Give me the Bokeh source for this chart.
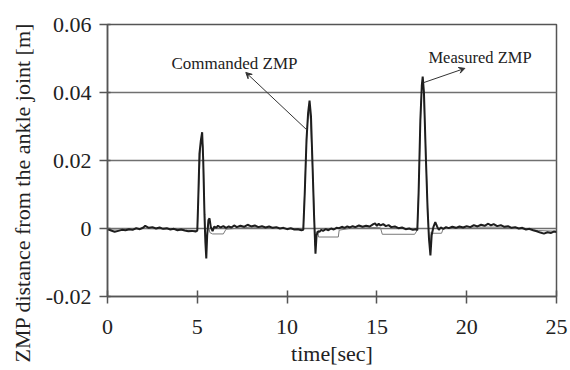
from bokeh.plotting import figure
from bokeh.models import Range1d, FixedTicker, Arrow, VeeHead, Label, Title
from bokeh.embed import file_html
from bokeh.resources import INLINE

# ---- data ----
t_meas = [0.0, 0.2, 0.4, 0.6, 0.8, 1.0, 1.2, 1.4, 1.6, 1.8, 2.0, 2.1, 2.3, 2.5, 2.7, 2.9,
          3.1, 3.3, 3.5, 3.7, 3.9, 4.1, 4.3, 4.5, 4.7, 4.9, 5.0,
          5.05, 5.12, 5.2, 5.27, 5.33, 5.40, 5.45, 5.50, 5.55, 5.62, 5.68, 5.75, 5.85, 5.95,
          6.05, 6.15, 6.3, 6.45, 6.6, 6.75, 6.9, 7.05, 7.2, 7.4, 7.6, 7.8, 8.0, 8.2, 8.4,
          8.6, 8.8, 9.0, 9.2, 9.4, 9.6, 9.8, 10.0, 10.2, 10.4, 10.6, 10.8, 10.9,
          10.98, 11.08, 11.17, 11.25, 11.33, 11.42, 11.50, 11.58, 11.64, 11.72, 11.8, 11.9,
          12.0, 12.15, 12.3, 12.45, 12.6, 12.75, 12.9, 13.05, 13.2, 13.35, 13.5, 13.65, 13.8,
          14.0, 14.2, 14.4, 14.6, 14.8, 14.9, 15.0, 15.1, 15.2, 15.35, 15.5, 15.65, 15.8,
          16.0, 16.2, 16.4, 16.6, 16.8, 17.0, 17.15, 17.25,
          17.32, 17.42, 17.50, 17.55, 17.62, 17.72, 17.82, 17.90, 17.98, 18.05, 18.15, 18.25,
          18.35, 18.45, 18.55, 18.7, 18.85, 19.0, 19.2, 19.4, 19.6, 19.8, 20.0, 20.2, 20.4,
          20.6, 20.8, 21.0, 21.2, 21.35, 21.5, 21.7, 21.9, 22.1, 22.3, 22.5, 22.7, 22.9,
          23.1, 23.3, 23.5, 23.7, 23.9, 24.1, 24.3, 24.5, 24.7, 24.85, 25.0]
z_meas = [-0.0002, -0.0006, -0.0010, -0.0007, -0.0004, -0.0005, -0.0002, -0.0004, 0.0001, -0.0002,
          0.0003, 0.0008, 0.0002, 0.0004, 0.0000, 0.0003,
          -0.0001, 0.0001, -0.0003, -0.0001, -0.0005, -0.0003, -0.0006, -0.0008, -0.0007, -0.0009, -0.0006,
          0.008, 0.022, 0.026, 0.0283, 0.020, 0.004, -0.004, -0.0088, -0.002, 0.0025, 0.0030, 0.0005,
          -0.0008, 0.0006,
          0.0002, 0.0008, 0.0003, 0.0007, 0.0002, 0.0006, 0.0003, 0.0009, 0.0004, 0.0008, 0.0005,
          0.0011, 0.0006, 0.0009, 0.0004,
          0.0007, 0.0003, 0.0006, 0.0002, 0.0004, 0.0000, 0.0002, -0.0002, 0.0001, -0.0003, -0.0002,
          -0.0005, -0.0004,
          0.010, 0.026, 0.034, 0.0376, 0.033, 0.018, 0.004, -0.0074, -0.002, -0.0008, -0.0010, -0.0004,
          -0.0007, -0.0002, -0.0005, 0.0000, -0.0003, 0.0002, 0.0001, 0.0005, 0.0002, 0.0006, 0.0003,
          0.0007, 0.0004,
          0.0009, 0.0005, 0.0008, 0.0006, 0.0013, 0.0015, 0.0008, 0.0014, 0.0009, 0.0013, 0.0007,
          0.0010, 0.0004,
          0.0006, 0.0001, 0.0003, -0.0002, 0.0000, -0.0004, -0.0002, -0.0005,
          0.010, 0.032, 0.042, 0.0447, 0.040, 0.022, 0.006, -0.003, -0.0079, -0.002, 0.0005, 0.0019,
          0.0006, -0.0004, 0.0003, -0.0001, 0.0004, 0.0001, 0.0005, 0.0002, 0.0006, 0.0003, 0.0007,
          0.0004, 0.0010,
          0.0006, 0.0011, 0.0008, 0.0014, 0.0009, 0.0013, 0.0007, 0.0010, 0.0005, 0.0007, 0.0002,
          0.0004, 0.0000,
          0.0002, -0.0003, -0.0001, -0.0005, -0.0008, -0.0012, -0.0015, -0.0011, -0.0013, -0.0009, -0.0010]

t_cmd = [0.0, 1.0, 2.0, 3.0, 4.0, 5.0, 5.08, 5.18, 5.25, 5.32, 5.38, 5.43, 5.48, 5.55, 5.62,
         5.7, 5.85, 6.45, 6.6, 8.0, 10.0, 10.9, 11.0, 11.12, 11.22, 11.3, 11.4, 11.5, 11.56,
         11.62, 11.72, 11.75, 12.85, 12.9, 14.0, 15.2, 15.3, 17.1, 17.25, 17.35, 17.45, 17.52,
         17.6, 17.7, 17.8, 17.88, 17.95, 18.02, 18.1, 18.6, 18.7, 20.0, 22.0, 24.0, 25.0]
z_cmd = [-0.0004, -0.0005, 0.0000, -0.0001, -0.0004, -0.0006, 0.012, 0.024, 0.0265, 0.024, 0.010,
         0.000, -0.006, -0.0015, 0.0008,
         -0.0012, -0.0016, -0.0016, -0.0002, 0.0004, -0.0001, -0.0004, 0.014, 0.030, 0.0355, 0.032,
         0.020, 0.006, -0.005,
         -0.001, -0.0012, -0.0025, -0.0025, -0.0005, 0.0005, 0.0002, -0.0017, -0.0017, -0.0005,
         0.016, 0.036, 0.043,
         0.041, 0.026, 0.010, -0.001, -0.006, -0.001, -0.0014, -0.0014, 0.0000, 0.0004, 0.0004,
         -0.0006, -0.0008]

x_ticks = [0, 5, 10, 15, 20, 25]
y_ticks = [-0.02, 0.0, 0.02, 0.04, 0.06]
y_tick_labels = {-0.02: "-0.02", 0.0: "0", 0.02: "0.02", 0.04: "0.04", 0.06: "0.06"}
x_title = "time[sec]"
y_title = "ZMP distance from the ankle joint [m]"

FONT = "Liberation Serif"

p = figure(width=570, height=370, output_backend="svg", toolbar_location=None,
           x_range=Range1d(0, 25), y_range=Range1d(-0.02, 0.06),
           min_border_left=107, min_border_right=14, min_border_top=24, min_border_bottom=74)
p.background_fill_color = "white"
p.border_fill_color = "white"
p.outline_line_color = "#555555"
p.outline_line_width = 1.5

p.xgrid.grid_line_color = None
p.ygrid.grid_line_color = "#707070"
p.ygrid.grid_line_width = 1.5

p.xaxis.ticker = FixedTicker(ticks=x_ticks)
p.yaxis.ticker = FixedTicker(ticks=y_ticks)
p.yaxis.major_label_overrides = y_tick_labels

for ax in (p.xaxis[0], p.yaxis[0]):
    ax.axis_line_color = "#555555"
    ax.axis_line_width = 1.5
    ax.major_tick_line_color = "#555555"
    ax.major_tick_line_width = 1.5
    ax.minor_tick_line_color = None
    ax.major_label_text_font = FONT
    ax.major_label_text_font_size = "22px"
    ax.major_label_text_color = "#222222"
    ax.axis_label_text_font = FONT
    ax.axis_label_text_font_size = "22px"
    ax.axis_label_text_font_style = "normal"
    ax.axis_label_text_color = "#222222"

p.xaxis.major_tick_in = 6
p.xaxis.major_tick_out = 7
p.xaxis.major_label_standoff = 16
p.xaxis.axis_label = x_title
p.xaxis.axis_label_standoff = 4

p.yaxis.major_tick_in = 3
p.yaxis.major_tick_out = 8
p.yaxis.major_label_standoff = 8

# y-axis title as a side title, shifted down like in the reference
ytitle = Title(text=y_title, align="left", offset=-66, vertical_align="middle",
               text_font=FONT, text_font_size="22px", text_font_style="normal",
               text_color="#222222", standoff=14)
p.add_layout(ytitle, "left")

p.line(t_cmd, z_cmd, line_color="#7a7a7a", line_width=1)
p.line(t_meas, z_meas, line_color="#1e1e1e", line_width=2)

p.add_layout(Arrow(end=VeeHead(size=6, line_color="#333333", fill_color="#333333", line_width=1),
                   x_start=11.1, y_start=0.029, x_end=7.7, y_end=0.0459,
                   line_color="#333333", line_width=1))
p.add_layout(Arrow(end=VeeHead(size=6, line_color="#333333", fill_color="#333333", line_width=1),
                   x_start=17.6, y_start=0.0429, x_end=19.9, y_end=0.0471,
                   line_color="#333333", line_width=1))

p.add_layout(Label(x=3.56, y=0.0485, text="Commanded ZMP", text_font=FONT,
                   text_font_size="17px", text_color="#222222", text_baseline="middle"))
p.add_layout(Label(x=17.87, y=0.0503, text="Measured ZMP", text_font=FONT,
                   text_font_size="16.5px", text_color="#222222", text_baseline="middle"))

open("out.html", "w").write(file_html(p, INLINE))
